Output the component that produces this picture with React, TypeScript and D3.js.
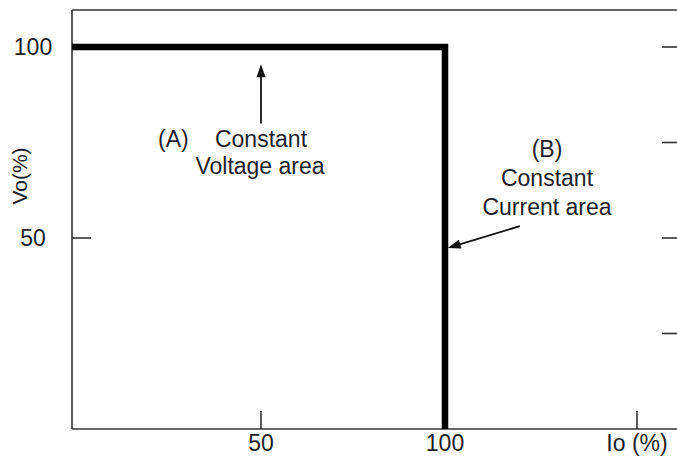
import React from "react";
import * as d3 from "d3";

// Data
const curveIo = [0, 100, 100];
const curveVo = [100, 100, 0];
const xTickValues = [50, 100, 150];
const xTickLabels = ["50", "100", "Io (%)"];
const xTickMarks = [50, 150];
const yTickValues = [50, 100];
const yTickLabels = ["50", "100"];
const leftTickMarks = [50];
const rightTickMarks = [25, 50, 75, 100];
const yAxisTitle = "Vo(%)";
const noteALines = ["Constant", "Voltage area"];
const noteBLines = ["(B)", "Constant", "Current area"];
const arrowA = { from: [50, 80], to: [50, 95.5] };
const arrowB = { from: [119.5, 53.1], to: [100.7, 47.4] };

const W = 677;
const H = 457;
const L = 72;
const T = 10;
const R = 677;
const B = 429;

export default function App() {
  const x = d3.scaleLinear().domain([0, 50, 100, 150]).range([72, 261, 445, 637]);
  const y = d3.scaleLinear().domain([0, 100]).range([B, 47]);
  const line = d3
    .line<number>()
    .x((_, i) => x(curveIo[i]))
    .y((_, i) => y(curveVo[i]));
  const font = "Liberation Sans, Arial, sans-serif";
  const txt = "#1e1e2a";
  const ax = "#333";

  const arrowHead = (x1: number, y1: number, x2: number, y2: number, len = 13, wid = 4.5) => {
    const a = Math.atan2(y2 - y1, x2 - x1);
    const bx = x2 - len * Math.cos(a);
    const by = y2 - len * Math.sin(a);
    const px = -Math.sin(a) * wid;
    const py = Math.cos(a) * wid;
    return `M${x2},${y2}L${bx + px},${by + py}L${bx - px},${by - py}Z`;
  };

  const aX1 = x(arrowA.from[0]), aY1 = y(arrowA.from[1]);
  const aX2 = x(arrowA.to[0]), aY2 = y(arrowA.to[1]);
  const bX1 = x(arrowB.from[0]), bY1 = y(arrowB.from[1]);
  const bX2 = x(arrowB.to[0]), bY2 = y(arrowB.to[1]);
  const bAng = Math.atan2(bY2 - bY1, bX2 - bX1);

  return (
    <svg width={W} height={H} style={{ position: "absolute", left: 0, top: 0, background: "#fff" }}>
      <rect x={0} y={0} width={W} height={H} fill="#fff" />
      {/* frame */}
      <line x1={L} x2={R} y1={T} y2={T} stroke={ax} strokeWidth={1.6} />
      <line x1={L} x2={L} y1={T} y2={B} stroke={ax} strokeWidth={1.6} />
      <line x1={L} x2={R} y1={B} y2={B} stroke={ax} strokeWidth={1.6} />
      {/* ticks */}
      {leftTickMarks.map((v) => (
        <line key={"l" + v} x1={L} x2={L + 19} y1={y(v)} y2={y(v)} stroke={ax} strokeWidth={1.6} />
      ))}
      {rightTickMarks.map((v) => (
        <line key={"r" + v} x1={R - 15} x2={R} y1={y(v)} y2={y(v)} stroke={ax} strokeWidth={1.6} />
      ))}
      {xTickMarks.map((v) => (
        <line key={"b" + v} x1={x(v)} x2={x(v)} y1={B} y2={B - 18} stroke={ax} strokeWidth={1.6} />
      ))}
      {/* tick labels */}
      {yTickValues.map((v, i) => (
        <text key={"yl" + v} x={33} y={y(v)} dy="0.36em" textAnchor="middle" fontFamily={font} fontSize={23} fill={txt}>
          {yTickLabels[i]}
        </text>
      ))}
      {xTickValues.map((v, i) => (
        <text key={"xl" + v} x={x(v)} y={451} textAnchor="middle" fontFamily={font} fontSize={23} fill={txt}>
          {xTickLabels[i]}
        </text>
      ))}
      <text
        transform={`translate(27,${176}) rotate(-90)`}
        textAnchor="middle"
        fontFamily={font}
        fontSize={21}
        fill={txt}
      >
        {yAxisTitle}
      </text>
      {/* curve */}
      <path d={line(curveIo) || ""} fill="none" stroke="#000" strokeWidth={6.5} strokeLinejoin="miter" />
      {/* annotation A */}
      <line x1={aX1} y1={aY1} x2={aX2} y2={aY2 + 10} stroke="#111" strokeWidth={1.8} />
      <path d={arrowHead(aX1, aY1, aX2, aY2)} fill="#111" />
      <text x={158} y={147} fontFamily={font} fontSize={23} fill={txt}>(A)</text>
      <text x={261} y={147} textAnchor="middle" fontFamily={font} fontSize={23} fill={txt}>{noteALines[0]}</text>
      <text x={260} y={174} textAnchor="middle" fontFamily={font} fontSize={23} fill={txt}>{noteALines[1]}</text>
      {/* annotation B */}
      <line
        x1={bX1}
        y1={bY1}
        x2={bX2 - 10 * Math.cos(bAng)}
        y2={bY2 - 10 * Math.sin(bAng)}
        stroke="#111"
        strokeWidth={1.8}
      />
      <path d={arrowHead(bX1, bY1, bX2, bY2)} fill="#111" />
      {noteBLines.map((s, i) => (
        <text key={s} x={547} y={157 + i * 29} textAnchor="middle" fontFamily={font} fontSize={23} fill={txt}>
          {s}
        </text>
      ))}
    </svg>
  );
}
